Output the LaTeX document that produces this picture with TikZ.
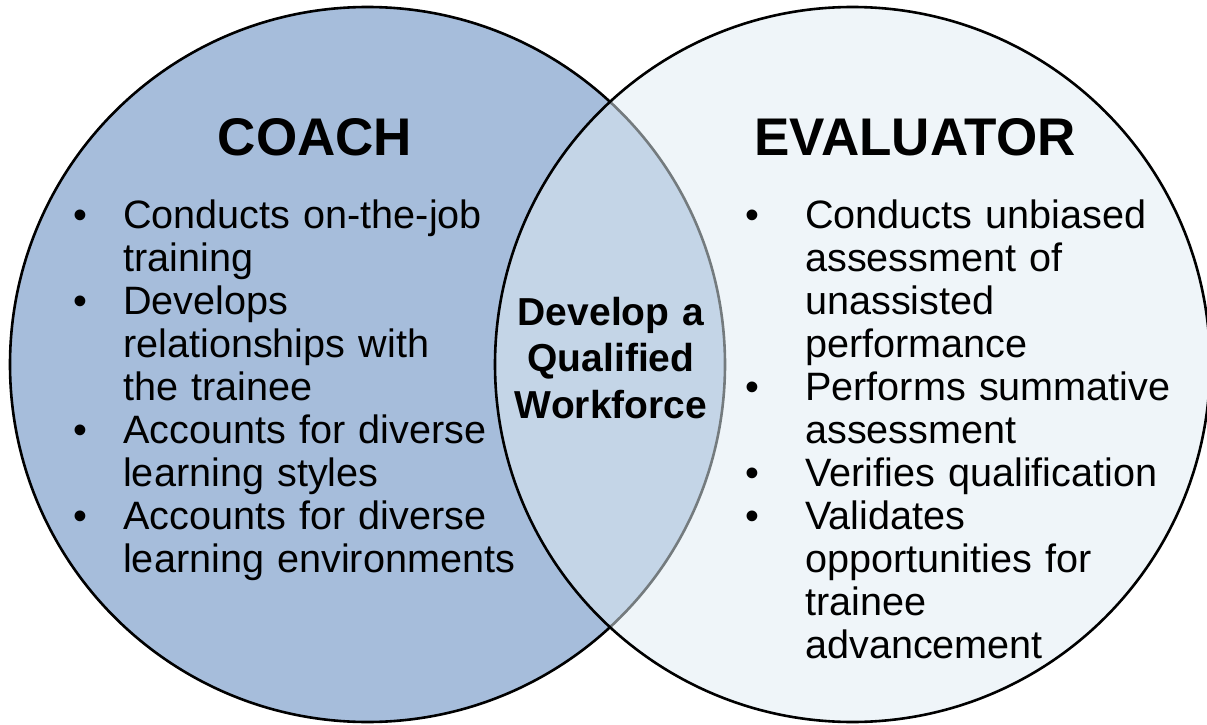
\documentclass[tikz,border=0pt]{standalone}
\usepackage{fontspec}
\setmainfont{Liberation Sans}
\definecolor{coachfill}{RGB}{166,189,219}
\definecolor{evalfill}{RGB}{224,236,243}
% bullet box and hanging indent for list lines
\newcommand\bulletbox[1]{\noindent\makebox[#1][l]{\textbullet}}
\newcommand\hangbox[1]{\noindent\hspace*{#1}}
\begin{document}
\begin{tikzpicture}[x=1pt,y=-1pt,
  ring/.style={circle, minimum size=715pt, inner sep=0pt, line width=2.6pt, draw=black},
  heading/.style={font=\fontsize{53}{60}\selectfont\bfseries, inner sep=0pt, anchor=base},
  itemlist/.style={font=\fontsize{39.6}{43}\selectfont, inner sep=0pt,
                   anchor=base west, text width=470pt, align=left},
  shared/.style={font=\fontsize{39}{46.5}\selectfont\bfseries, inner sep=0pt,
                 anchor=base, text width=230pt, align=center}]
\useasboundingbox (0,0) rectangle (1207,725);

% the two overlapping circles
\node[ring, fill=coachfill] (coach) at (367.5,364.5) {};
\node[ring, fill=evalfill, fill opacity=0.52] (evaluator) at (852.5,364.5) {};

% headings
\node[heading] (coachtitle) at (315,155) {COACH};
\node[heading] (evaltitle) at (915,155) {EVALUATOR};

% coach duties
\node[itemlist] (coachlist) at (73,228) {%
\bulletbox{50pt}Conducts on-the-job\\
\hangbox{50pt}training\\
\bulletbox{50pt}Develops\\
\hangbox{50pt}relationships with\\
\hangbox{50pt}the trainee\\
\bulletbox{50pt}Accounts for diverse\\
\hangbox{50pt}learning styles\\
\bulletbox{50pt}Accounts for diverse\\
\hangbox{50pt}learning environments};

% evaluator duties
\node[itemlist] (evallist) at (745,228) {%
\bulletbox{60pt}Conducts unbiased\\
\hangbox{60pt}assessment of\\
\hangbox{60pt}unassisted\\
\hangbox{60pt}performance\\
\bulletbox{60pt}Performs summative\\
\hangbox{60pt}assessment\\
\bulletbox{60pt}Verifies qualification\\
\bulletbox{60pt}Validates\\
\hangbox{60pt}opportunities for\\
\hangbox{60pt}trainee\\
\hangbox{60pt}advancement};

% shared goal in the overlap
\node[shared] (goal) at (611,325) {Develop a\\Qualified\\Workforce};
\end{tikzpicture}
\end{document}
